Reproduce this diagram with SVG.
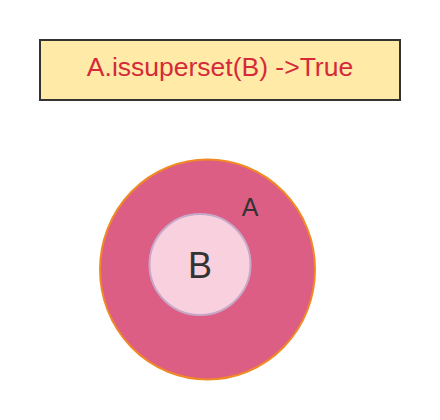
<svg xmlns="http://www.w3.org/2000/svg" width="440" height="420" viewBox="0 0 440 420">
<style>
text{font-family:"Liberation Sans",Arial,sans-serif;text-anchor:middle}
.title{fill:#d42a3a;font-size:26.5px}
.lbl{fill:#333333}
</style>
<rect width="440" height="420" fill="#ffffff"/>
<g id="title">
<rect x="40" y="40" width="360" height="60" fill="#ffeaa7" stroke="#333333" stroke-width="2"/>
<text class="title" x="220" y="76">A.issuperset(B) -&gt;True</text>
</g>
<g id="setA">
<ellipse cx="207.5" cy="269.5" rx="107.5" ry="110" fill="#dc5e84" stroke="#f08a24" stroke-width="2"/>
<text class="lbl" x="250" y="215.5" font-size="25">A</text>
</g>
<g id="setB">
<circle cx="200" cy="264.5" r="50.5" fill="#f9d1de" stroke="#c8a8c8" stroke-width="2"/>
<text class="lbl" x="200" y="277.5" font-size="36">B</text>
</g>
<g id="connectors"/>
</svg>
